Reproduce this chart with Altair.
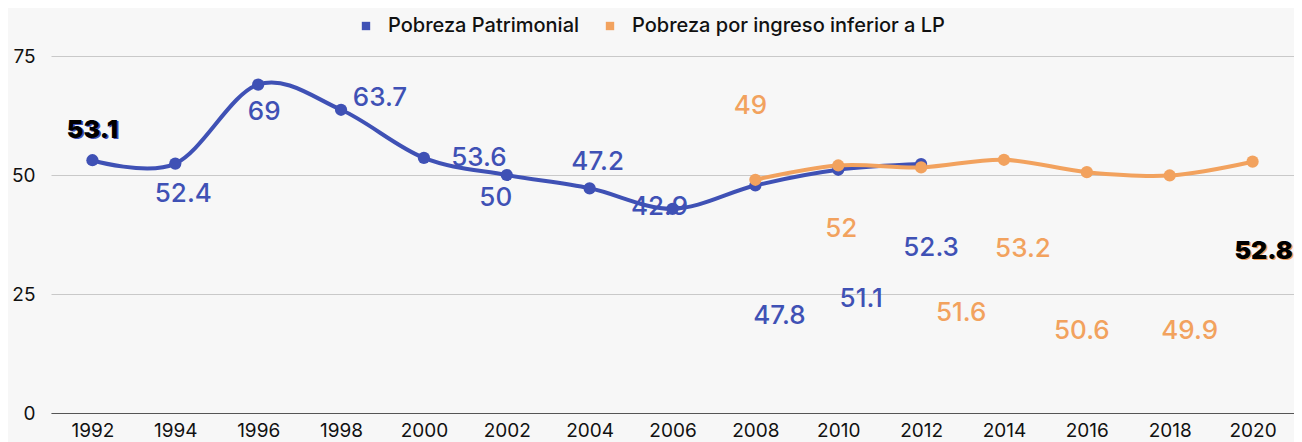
import altair as alt
import pandas as pd

# ---- data ----
series_names = ["Pobreza Patrimonial", "Pobreza por ingreso inferior a LP"]
series_colors = ["#3F51B5", "#F2A25E"]

years_patrimonial = [1992, 1994, 1996, 1998, 2000, 2002, 2004, 2006, 2008, 2010, 2012]
values_patrimonial = [53.1, 52.4, 69, 63.7, 53.6, 50, 47.2, 42.9, 47.8, 51.1, 52.3]

years_lp = [2008, 2010, 2012, 2014, 2016, 2018, 2020]
values_lp = [49, 52, 51.6, 53.2, 50.6, 49.9, 52.8]

year_ticks = list(range(1992, 2021, 2))
y_ticks = [0, 25, 50, 75]

# label placement (pixel offsets from each point), kept apart from the data
label_dx_patrimonial = [0, 8, 6, 39, 55, -11, 8, -13, 24, 23, 10]
label_dy_patrimonial = [-30, 30, 27, -12, 0, 23, -26, -2, 131, 129, 84]
label_dx_lp = [-5, 3, 40, 19, -5, 20, 11]
label_dy_lp = [-74, 64, 146, 89, 159, 156, 89]
bold_labels = {(series_names[0], 1992), (series_names[1], 2020)}

rows = []
for y, v, dx, dy in zip(years_patrimonial, values_patrimonial, label_dx_patrimonial, label_dy_patrimonial):
    rows.append({"year": y, "value": v, "series": series_names[0], "dx": dx, "dy": dy})
for y, v, dx, dy in zip(years_lp, values_lp, label_dx_lp, label_dy_lp):
    rows.append({"year": y, "value": v, "series": series_names[1], "dx": dx, "dy": dy})
df = pd.DataFrame(rows)
df["label"] = df["value"].map(lambda v: f"{v:g}")

FONT = "Inter"

x_enc = alt.X("year:Q", scale=alt.Scale(domain=[1991, 2021], nice=False, zero=False),
              axis=alt.Axis(values=year_ticks, format="d", title=None, grid=False,
                            ticks=False, labelPadding=8, labelFontSize=19,
                            labelColor="#111111", domainColor="#555555", domainWidth=1.2,
                            labelFont=FONT))
y_enc = alt.Y("value:Q", scale=alt.Scale(domain=[0, 75], nice=False),
              axis=alt.Axis(values=y_ticks, title=None, domain=False, ticks=False,
                            labelPadding=16, labelFontSize=19, labelColor="#111111",
                            gridColor="#c9c9c9", gridWidth=1, labelFont=FONT))
color_scale = alt.Scale(domain=series_names, range=series_colors)
legend_def = alt.Legend(title=None, orient="none", direction="horizontal",
                        legendX=305, legendY=-40, symbolType="square",
                        symbolSize=70, labelFontSize=20, labelFont=FONT,
                        labelColor="#111111", columnPadding=20, labelLimit=1000,
                        labelOffset=12, labelFontWeight=500,
                        symbolStrokeWidth=0)
color_enc = alt.Color("series:N", scale=color_scale, legend=legend_def)

base = alt.Chart(df)

lines = base.mark_line(interpolate="cardinal", strokeWidth=4).encode(
    x=x_enc, y=y_enc, color=color_enc, detail="series:N",
)

points = base.mark_point(filled=True, size=150, opacity=1).encode(
    x=x_enc, y=y_enc, color=color_enc,
)

layers = [lines, points]
for r in rows:
    name, yr = r["series"], r["year"]
    color = series_colors[series_names.index(name)]
    sub = base.transform_filter(
        (alt.datum.series == name) & (alt.datum.year == yr)
    )
    if (name, yr) in bold_labels:
        layers.append(sub.mark_text(dx=r["dx"] + 1.5, dy=r["dy"] + 1, fontSize=25,
                                    fontWeight=900, font=FONT, color=color)
                      .encode(x="year:Q", y="value:Q", text="label:N"))
        layers.append(sub.mark_text(dx=r["dx"], dy=r["dy"], fontSize=25,
                                    fontWeight=900, font=FONT, color="#000000")
                      .encode(x="year:Q", y="value:Q", text="label:N"))
    else:
        layers.append(sub.mark_text(dx=r["dx"], dy=r["dy"], fontSize=26,
                                    fontWeight=500, font=FONT, color=color)
                      .encode(x="year:Q", y="value:Q", text="label:N"))

chart = alt.layer(*layers).properties(
    width=1243, height=357,
    autosize=alt.AutoSizeParams(type="none"),
    padding={"left": 43, "top": 48, "right": 0, "bottom": 29},
    background="#f7f7f7",
).configure_view(stroke=None)

chart.save("out.html", embed_options={"renderer": "svg", "actions": False})
